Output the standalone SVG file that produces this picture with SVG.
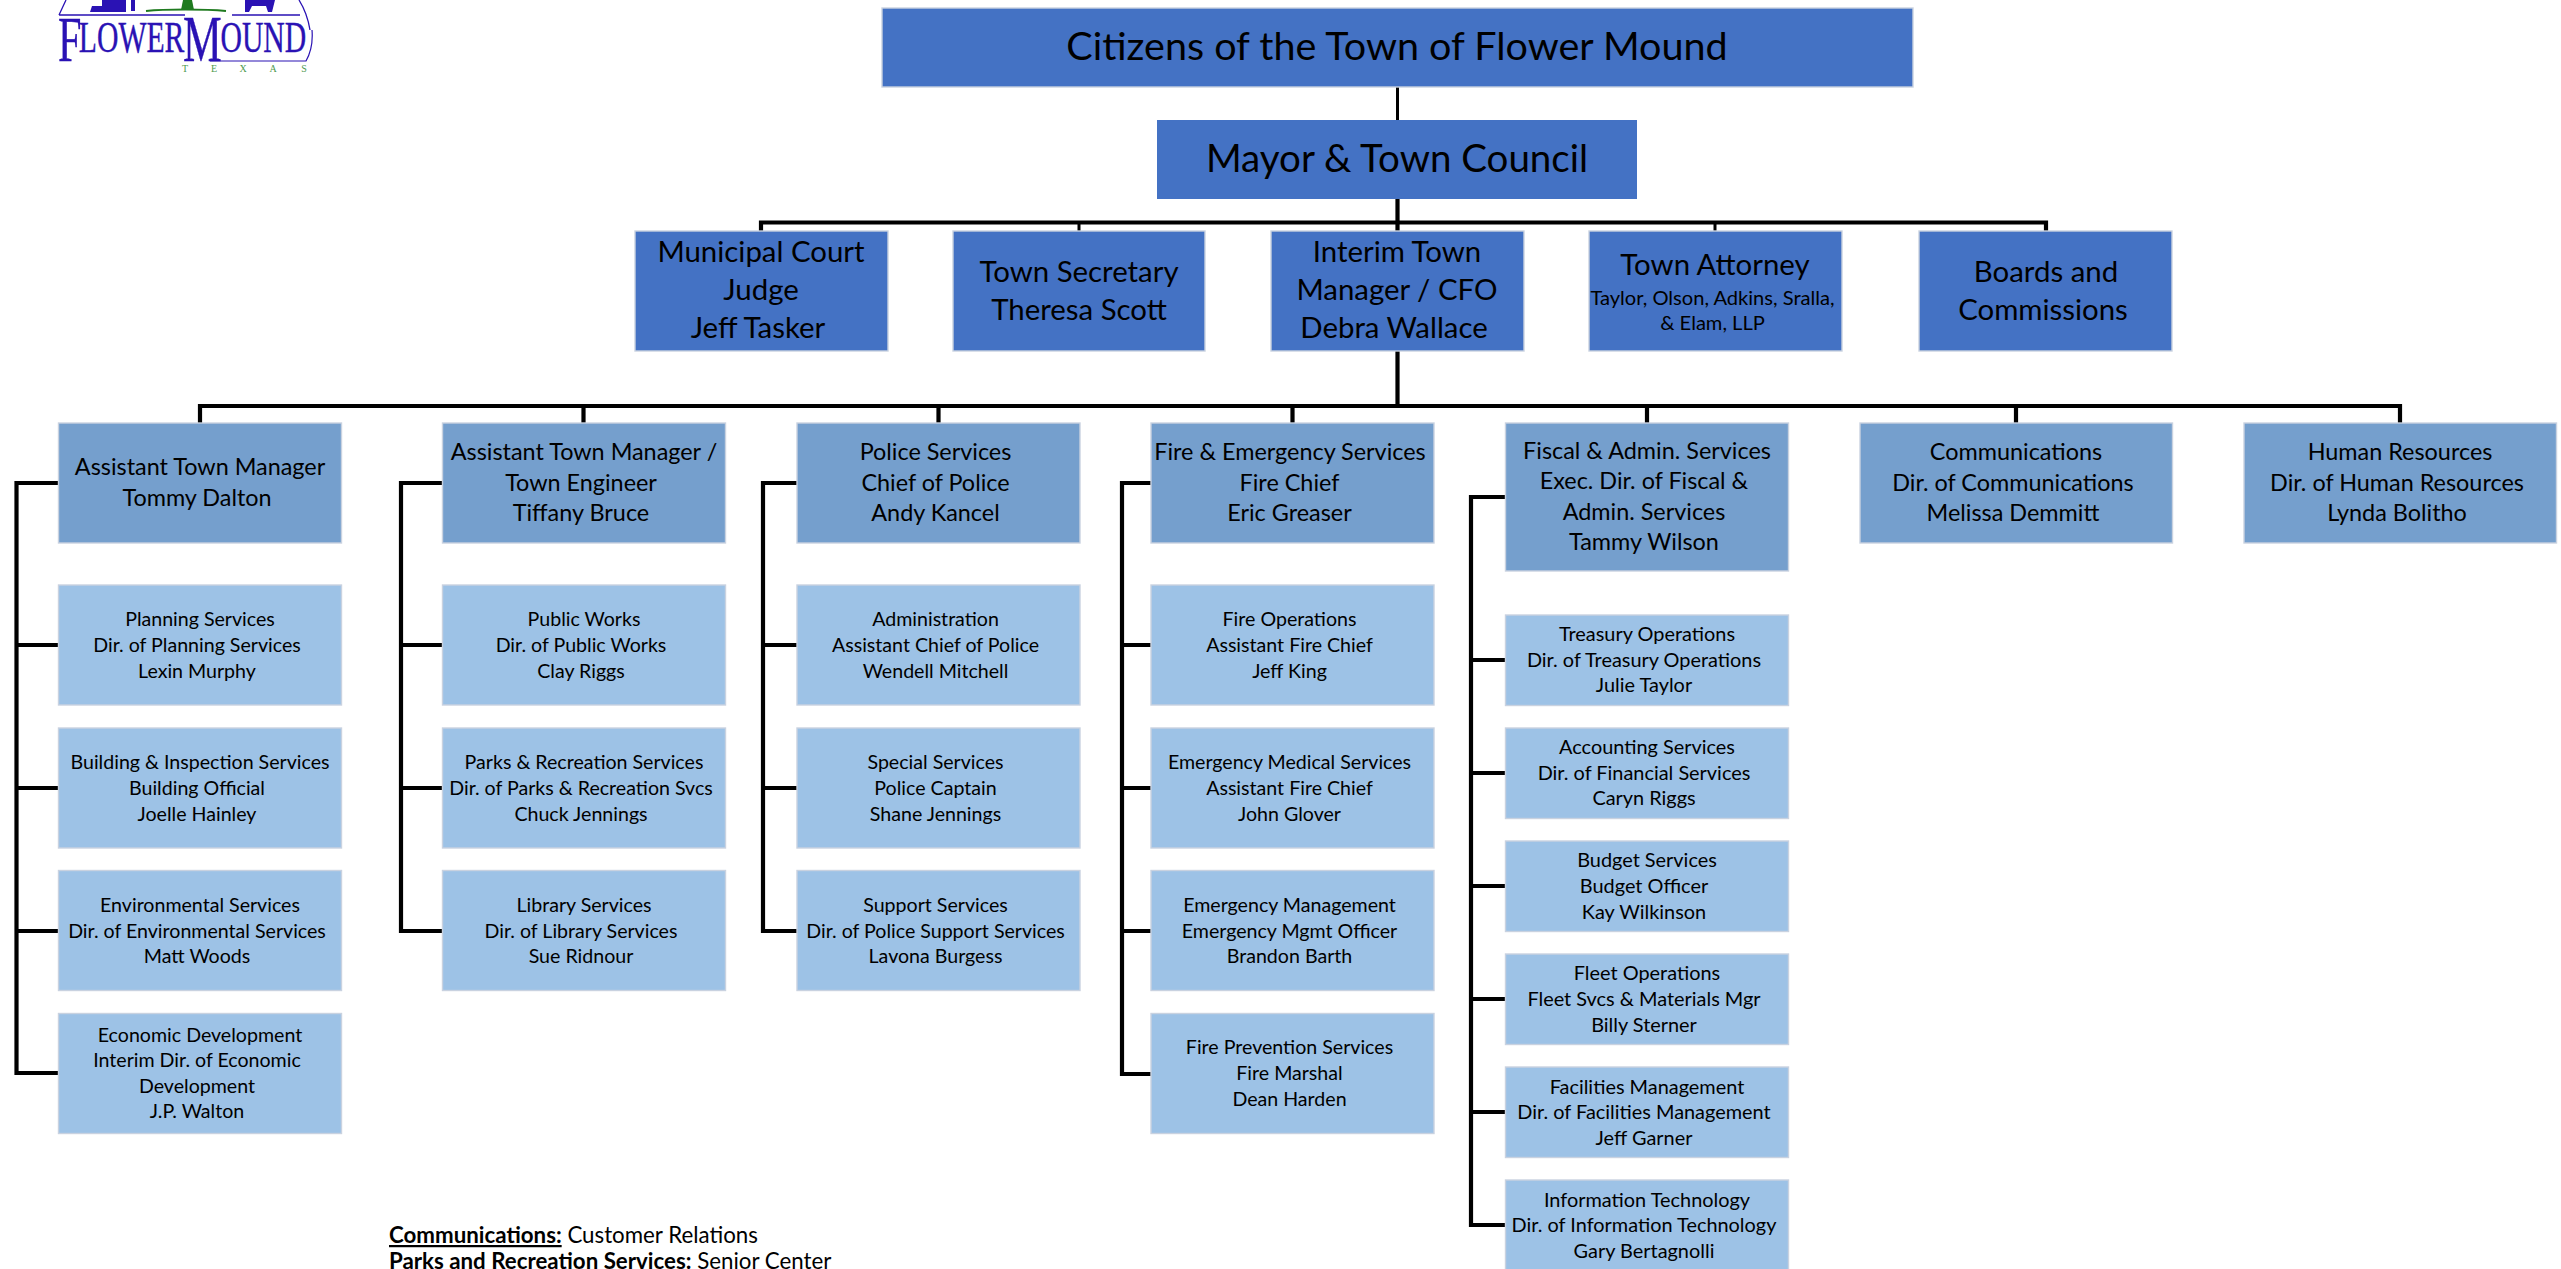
<svg xmlns="http://www.w3.org/2000/svg" width="2561" height="1269" viewBox="0 0 2561 1269">
<style>
text{font-family:"Lato","Carlito","Open Sans",sans-serif;fill:#000;text-anchor:middle}
.b{stroke:#c9d2e0;stroke-width:1.4}
.a{fill:#4472C4}.m{fill:#759FCD}.c{fill:#9DC2E6}
.xl{font-size:39.5px}.ma{font-size:38.5px}.l{font-size:29.4px}.n{font-size:23.4px}.s{font-size:19.6px}.s2{font-size:19.9px}.sub{font-size:20.1px}
.w{fill:none;stroke:#000;stroke-width:4.2}.h{fill:none;stroke:#000;stroke-width:3}
.f{text-anchor:start;font-size:22.3px}
.logo{font-family:"Liberation Serif",serif;fill:#2a12b4;stroke:#2a12b4;stroke-width:.4;text-anchor:start}
.tx{font-family:"Liberation Serif",serif;fill:#4f9a4f;font-size:10px}
</style>
<rect width="2561" height="1269" fill="#fff"/>
<g id="logo">
<path d="M59 15L66 0M310 30C308 18 304 8 299 0M59 15H185M232 15H300" fill="none" stroke="#2a12b4" stroke-width="1.3"/>
<path d="M90 12L92 6H102V0H126V12Z" fill="#2a12b4"/>
<path d="M131 0H135V11H131Z" fill="#2a12b4"/>
<path d="M146 11C165 9 205 9 226 11" fill="none" stroke="#1f7a1f" stroke-width="2"/>
<path d="M183 0H192L194 10H181Z" fill="#1f7a1f"/>
<path d="M245 0H275L272 12H268L266 6H252L249 12H245Z" fill="#2a12b4"/>
<path d="M210 61H306C311 52 313 42 312 30" fill="none" stroke="#2a12b4" stroke-width="1.2"/>
<text class="logo" transform="translate(58 0) scale(.66 1)" x="0" y="61" font-size="64">F<tspan font-size="45" dx="-4" dy="-9">LOWER</tspan><tspan font-size="66" dx="-2" dy="9">M</tspan><tspan font-size="45" dx="-2" dy="-9">OUND</tspan></text>
<text class="tx" x="185" y="72">T</text><text class="tx" x="214" y="72">E</text><text class="tx" x="243" y="72">X</text><text class="tx" x="273" y="72">A</text><text class="tx" x="304" y="72">S</text>
</g>
<g id="connectors">
<path class="h" d="M1397.5 87V120"/>
<path class="w" d="M1397.5 199V231M761 231V222.500H2046V231"/>
<path class="h" d="M1079 222V231M1715 222V231"/>
<path class="w" d="M1397.500 351V406M200 423V406H2400V423M583.500 406V423M938.500 406V423M1292.500 406V423M1647 406V423M2016 406V423"/>
<path class="w" d="M58 483H16.500V1073H58M16.500 645H58M16.500 788H58M16.500 931H58"/>
<path class="w" d="M442 483H401V931H442M401 645H442M401 788H442"/>
<path class="w" d="M797 483H763V931H797M763 645H797M763 788H797"/>
<path class="w" d="M1151 483H1122V1074H1151M1122 645H1151M1122 788H1151M1122 931H1151"/>
<path class="w" d="M1505 497H1471V1225H1505M1471 660H1505M1471 773H1505M1471 886H1505M1471 999H1505M1471 1112H1505"/>
</g>
<g id="citizens"><rect class="b a" x="882" y="8" width="1031" height="79"/><text class="xl" x="1397" y="60">Citizens of the Town of Flower Mound</text></g>
<g id="mayor"><rect class="a" x="1157" y="120" width="480" height="79"/><text class="ma" x="1397" y="172">Mayor &amp; Town Council</text></g>
<g id="municipal-court"><rect class="b a" x="635" y="231" width="253" height="120"/><text class="l" x="761" y="262">Municipal Court</text><text class="l" x="761" y="300">Judge</text><text class="l" x="758" y="338">Jeff Tasker</text></g>
<g id="town-secretary"><rect class="b a" x="953" y="231" width="252" height="120"/><text class="l" x="1079" y="282">Town Secretary</text><text class="l" x="1079" y="320">Theresa Scott</text></g>
<g id="town-manager"><rect class="b a" x="1271" y="231" width="253" height="120"/><text class="l" x="1397" y="262">Interim Town</text><text class="l" x="1397" y="300">Manager / CFO</text><text class="l" x="1394" y="338">Debra Wallace</text></g>
<g id="town-attorney"><rect class="b a" x="1589" y="231" width="253" height="120"/><text class="l" x="1715" y="275">Town Attorney</text><text class="sub" x="1712.500" y="305">Taylor, Olson, Adkins, Sralla,</text><text class="sub" x="1712.500" y="330">&amp; Elam, LLP</text></g>
<g id="boards"><rect class="b a" x="1919" y="231" width="253" height="120"/><text class="l" x="2046" y="282">Boards and</text><text class="l" x="2043" y="320">Commissions</text></g>

<g id="atm-dalton"><rect class="b m" x="58.500" y="423" width="283" height="120"/><text class="n" x="200" y="475">Assistant Town Manager</text><text class="n" x="197" y="506">Tommy Dalton</text></g>
<g id="atm-bruce"><rect class="b m" x="442.500" y="423" width="283" height="120"/><text class="n" x="584" y="460">Assistant Town Manager /</text><text class="n" x="581" y="491">Town Engineer</text><text class="n" x="581" y="521">Tiffany Bruce</text></g>
<g id="police"><rect class="b m" x="797" y="423" width="283" height="120"/><text class="n" x="935.500" y="460">Police Services</text><text class="n" x="935.500" y="491">Chief of Police</text><text class="n" x="935.500" y="521">Andy Kancel</text></g>
<g id="fire"><rect class="b m" x="1151" y="423" width="283" height="120"/><text class="n" x="1290" y="460">Fire &amp; Emergency Services</text><text class="n" x="1289.500" y="491">Fire Chief</text><text class="n" x="1289.500" y="521">Eric Greaser</text></g>
<g id="fiscal"><rect class="b m" x="1505.500" y="423" width="283" height="148"/><text class="n" x="1647" y="459">Fiscal &amp; Admin. Services</text><text class="n" x="1644" y="489">Exec. Dir. of Fiscal &amp;</text><text class="n" x="1644" y="520">Admin. Services</text><text class="n" x="1644" y="550">Tammy Wilson</text></g>
<g id="communications"><rect class="b m" x="1860" y="423" width="312.500" height="120"/><text class="n" x="2016" y="460">Communications</text><text class="n" x="2013" y="491">Dir. of Communications</text><text class="n" x="2013" y="521">Melissa Demmitt</text></g>
<g id="hr"><rect class="b m" x="2244" y="423" width="312.500" height="120"/><text class="n" x="2400" y="460">Human Resources</text><text class="n" x="2397" y="491">Dir. of Human Resources</text><text class="n" x="2397" y="521">Lynda Bolitho</text></g>

<g id="planning"><rect class="b c" x="58.500" y="585" width="283" height="120"/><text class="s" x="200" y="626">Planning Services</text><text class="s" x="197" y="652">Dir. of Planning Services</text><text class="s" x="197" y="678">Lexin Murphy</text></g>
<g id="building"><rect class="b c" x="58.500" y="728" width="283" height="120"/><text class="s" x="200" y="769">Building &amp; Inspection Services</text><text class="s" x="197" y="795">Building Official</text><text class="s" x="197" y="821">Joelle Hainley</text></g>
<g id="environmental"><rect class="b c" x="58.500" y="870.500" width="283" height="120"/><text class="s" x="200" y="912">Environmental Services</text><text class="s" x="197" y="937.500">Dir. of Environmental Services</text><text class="s" x="197" y="963">Matt Woods</text></g>
<g id="economic"><rect class="b c" x="58.500" y="1013.500" width="283" height="120"/><text class="s" x="200" y="1042">Economic Development</text><text class="s" x="197" y="1067">Interim Dir. of Economic</text><text class="s" x="197" y="1093">Development</text><text class="s" x="197" y="1118">J.P. Walton</text></g>

<g id="public-works"><rect class="b c" x="442.500" y="585" width="283" height="120"/><text class="s" x="584" y="626">Public Works</text><text class="s" x="581" y="652">Dir. of Public Works</text><text class="s" x="581" y="678">Clay Riggs</text></g>
<g id="parks"><rect class="b c" x="442.500" y="728" width="283" height="120"/><text class="s" x="584" y="769">Parks &amp; Recreation Services</text><text class="s" x="581" y="795">Dir. of Parks &amp; Recreation Svcs</text><text class="s" x="581" y="821">Chuck Jennings</text></g>
<g id="library"><rect class="b c" x="442.500" y="870.500" width="283" height="120"/><text class="s" x="584" y="912">Library Services</text><text class="s" x="581" y="937.500">Dir. of Library Services</text><text class="s" x="581" y="963">Sue Ridnour</text></g>

<g id="administration"><rect class="b c" x="797" y="585" width="283" height="120"/><text class="s" x="935.500" y="626">Administration</text><text class="s" x="935.500" y="652">Assistant Chief of Police</text><text class="s" x="935.500" y="678">Wendell Mitchell</text></g>
<g id="special"><rect class="b c" x="797" y="728" width="283" height="120"/><text class="s" x="935.500" y="769">Special Services</text><text class="s" x="935.500" y="795">Police Captain</text><text class="s" x="935.500" y="821">Shane Jennings</text></g>
<g id="support"><rect class="b c" x="797" y="870.500" width="283" height="120"/><text class="s" x="935.500" y="912">Support Services</text><text class="s" x="935.500" y="937.500">Dir. of Police Support Services</text><text class="s" x="935.500" y="963">Lavona Burgess</text></g>

<g id="fire-ops"><rect class="b c" x="1151" y="585" width="283" height="120"/><text class="s" x="1289.500" y="626">Fire Operations</text><text class="s" x="1289.500" y="652">Assistant Fire Chief</text><text class="s" x="1289.500" y="678">Jeff King</text></g>
<g id="ems"><rect class="b c" x="1151" y="728" width="283" height="120"/><text class="s" x="1289.500" y="769">Emergency Medical Services</text><text class="s" x="1289.500" y="795">Assistant Fire Chief</text><text class="s" x="1289.500" y="821">John Glover</text></g>
<g id="em"><rect class="b c" x="1151" y="870.500" width="283" height="120"/><text class="s" x="1289.500" y="912">Emergency Management</text><text class="s" x="1289.500" y="937.500">Emergency Mgmt Officer</text><text class="s" x="1289.500" y="963">Brandon Barth</text></g>
<g id="fire-prevention"><rect class="b c" x="1151" y="1013.500" width="283" height="120"/><text class="s" x="1289.500" y="1054">Fire Prevention Services</text><text class="s" x="1289.500" y="1080">Fire Marshal</text><text class="s" x="1289.500" y="1106">Dean Harden</text></g>

<g id="treasury"><rect class="b c" x="1505.500" y="615" width="283" height="90.500"/><text class="s2" x="1647" y="641">Treasury Operations</text><text class="s2" x="1644" y="667">Dir. of Treasury Operations</text><text class="s2" x="1644" y="692">Julie Taylor</text></g>
<g id="accounting"><rect class="b c" x="1505.500" y="728" width="283" height="90.500"/><text class="s2" x="1647" y="754">Accounting Services</text><text class="s2" x="1644" y="780">Dir. of Financial Services</text><text class="s2" x="1644" y="805">Caryn Riggs</text></g>
<g id="budget"><rect class="b c" x="1505.500" y="841" width="283" height="90.500"/><text class="s2" x="1647" y="867">Budget Services</text><text class="s2" x="1644" y="893">Budget Officer</text><text class="s2" x="1644" y="919">Kay Wilkinson</text></g>
<g id="fleet"><rect class="b c" x="1505.500" y="954" width="283" height="90.500"/><text class="s2" x="1647" y="980">Fleet Operations</text><text class="s2" x="1644" y="1006">Fleet Svcs &amp; Materials Mgr</text><text class="s2" x="1644" y="1032">Billy Sterner</text></g>
<g id="facilities"><rect class="b c" x="1505.500" y="1067" width="283" height="90.500"/><text class="s2" x="1647" y="1094">Facilities Management</text><text class="s2" x="1644" y="1119">Dir. of Facilities Management</text><text class="s2" x="1644" y="1145">Jeff Garner</text></g>
<g id="it"><rect class="b c" x="1505.500" y="1180" width="283" height="92"/><text class="s2" x="1647" y="1207">Information Technology</text><text class="s2" x="1644" y="1232">Dir. of Information Technology</text><text class="s2" x="1644" y="1258">Gary Bertagnolli</text></g>

<g id="footnotes">
<text class="f" x="389" y="1243"><tspan font-weight="700" text-decoration="underline">Communications:</tspan> Customer Relations</text>
<text class="f" x="389" y="1269"><tspan font-weight="700">Parks and Recreation Services:</tspan> Senior Center</text>
</g>
</svg>
